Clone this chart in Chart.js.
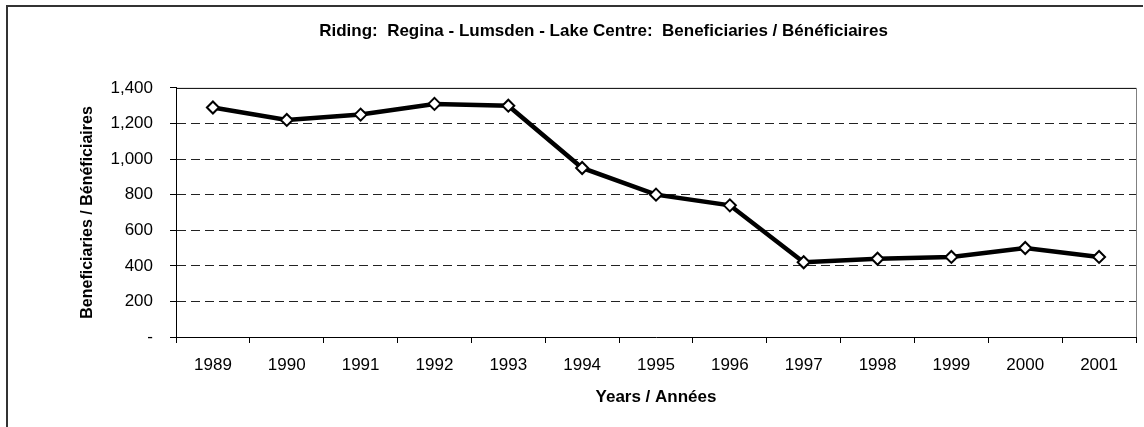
<!DOCTYPE html>
<html>
<head>
<meta charset="utf-8">
<script src="https://cdn.jsdelivr.net/npm/chart.js@4"></script>
<style>
  html, body { margin: 0; padding: 0; background: #fff; }
  #wrap { width: 1144px; height: 427px; position: relative; }
</style>
</head>
<body>
<div id="wrap"><canvas id="chart" width="1144" height="427"></canvas></div>
<script>
// data
const years = ["1989", "1990", "1991", "1992", "1993", "1994", "1995",
               "1996", "1997", "1998", "1999", "2000", "2001"];
const beneficiaries = [1290, 1220, 1250, 1310, 1300, 950, 800, 740, 420, 440, 450, 500, 450];
const yTicks = [0, 200, 400, 600, 800, 1000, 1200, 1400];

const chartTitle = "Riding:  Regina - Lumsden - Lake Centre:  Beneficiaries / Bénéficiaires";
const xTitle = "Years / Années";
const yTitle = "Beneficiaries / Bénéficiaires";

const narrow = "'Liberation Sans Narrow', 'Arial Narrow', 'Liberation Sans', Arial, sans-serif";
const plain = "'Liberation Sans', Arial, sans-serif";

// outer frame (top + left only) and the plot area box
const frames = {
  id: "frames",
  beforeDraw(chart) {
    const c = chart.ctx;
    c.save();
    c.strokeStyle = "#333";
    c.lineWidth = 2;
    c.beginPath();
    c.moveTo(7, 427);
    c.lineTo(7, 6);
    c.lineTo(1143, 6);
    c.stroke();
    c.restore();
  },
  afterDatasetsDraw(chart) {
    const a = chart.chartArea;
    const c = chart.ctx;
    c.save();
    c.lineWidth = 1;
    c.strokeStyle = "#000";
    c.beginPath();
    c.moveTo(a.left, a.top + 0.5);
    c.lineTo(a.right, a.top + 0.5);
    c.stroke();
    c.strokeStyle = "#808080";
    c.beginPath();
    c.moveTo(a.right + 0.5, a.top);
    c.lineTo(a.right + 0.5, a.bottom);
    c.stroke();
    c.restore();
  }
};

new Chart(document.getElementById("chart"), {
  type: "line",
  plugins: [frames],
  data: {
    labels: years,
    datasets: [{
      data: beneficiaries,
      borderColor: "#000",
      borderWidth: 4.5,
      tension: 0,
      pointStyle: "rectRot",
      pointRadius: 6,
      pointBorderWidth: 2,
      pointBackgroundColor: "#fff",
      pointBorderColor: "#000"
    }]
  },
  options: {
    responsive: false,
    animation: false,
    layout: { padding: { left: 70, right: 7, top: 0, bottom: 10 } },
    plugins: {
      legend: { display: false },
      tooltip: { enabled: false },
      title: {
        display: true,
        text: chartTitle,
        color: "#000",
        font: { family: narrow, size: 17, weight: "bold" },
        padding: { top: 21.5, bottom: 46 }
      }
    },
    scales: {
      x: {
        offset: true,
        afterFit: s => { s.height = 80; },
        grid: {
          offset: true,
          drawOnChartArea: false,
          tickLength: 6,
          tickColor: "#000"
        },
        border: { color: "#000", width: 1 },
        ticks: {
          color: "#000",
          padding: 12,
          maxRotation: 0,
          font: { family: plain, size: 17 }
        },
        title: {
          display: true,
          text: xTitle,
          color: "#000",
          font: { family: narrow, size: 17, weight: "bold" },
          padding: { top: 4, bottom: 9 }
        }
      },
      y: {
        min: 0,
        max: 1400,
        afterFit: s => { s.width = 106; },
        afterBuildTicks: s => { s.ticks = yTicks.map(v => ({ value: v })); },
        grid: {
          color: ctx => (ctx.tick && (ctx.tick.value === 0 || ctx.tick.value === 1400)) ? "rgba(0,0,0,0)" : "#222",
          tickColor: "#000",
          tickBorderDash: [],
          tickLength: 6
        },
        border: { color: "#000", width: 1, dash: [9, 5] },
        ticks: {
          color: "#000",
          padding: 17,
          font: { family: plain, size: 17 },
          callback: v => v === 0 ? "-" : v.toLocaleString("en-US")
        },
        title: {
          display: true,
          text: yTitle,
          color: "#000",
          font: { family: narrow, size: 16, weight: "bold" },
          padding: { top: 7.5, bottom: 4 }
        }
      }
    }
  }
});
</script>
</body>
</html>
